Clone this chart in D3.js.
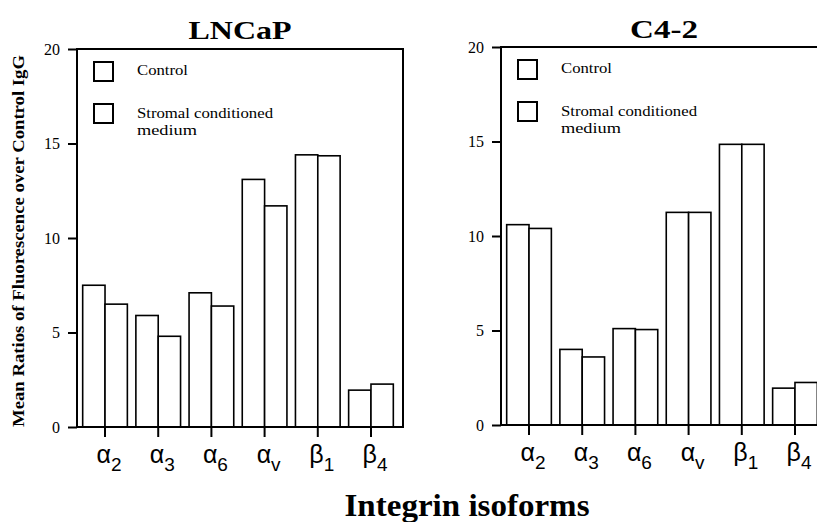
<!DOCTYPE html>
<html>
<head>
<meta charset="utf-8">
<script src="https://cdn.jsdelivr.net/npm/d3@7"></script>
<style>
  body { margin: 0; background: #fff; }
  svg { display: block; }
</style>
</head>
<body>
<div id="chart"></div>
<script>
// data
var categories = ["α2", "α3", "α6", "αv", "β1", "β4"];
var seriesNames = ["Control", "Stromal conditioned medium"];
var lncapControl = [7.5, 5.9, 7.1, 13.1, 14.4, 1.95];
var lncapStromal = [6.5, 4.8, 6.4, 11.7, 14.35, 2.27];
var c42Control = [10.6, 4.0, 5.1, 11.25, 14.85, 1.95];
var c42Stromal = [10.4, 3.6, 5.05, 11.25, 14.85, 2.25];
var yTicks = [0, 5, 10, 15, 20];

var svgWidth = 817, svgHeight = 522;
var svg = d3.select("#chart").append("svg")
    .attr("width", svgWidth)
    .attr("height", svgHeight);

var serif = "'Liberation Serif', 'Times New Roman', serif";
var sans = "'Liberation Sans', Arial, Helvetica, sans-serif";

var panels = [
    { title: "LNCaP", left: 77, top: 49, bottom: 427, control: lncapControl, stromal: lncapStromal, titleWidth: 103, titleY: 39 },
    { title: "C4-2", left: 501, top: 47, bottom: 425, control: c42Control, stromal: c42Stromal, titleWidth: 68, titleY: 38 }
];
var panelWidth = 326;

panels.forEach(function (p) {
    var g = svg.append("g").attr("transform", "translate(" + p.left + ",0)");

    var y = d3.scaleLinear().domain([0, 20]).range([p.bottom, p.top]);
    var x0 = d3.scaleBand().domain(categories).range([1, 321])
        .paddingInner(0.16).paddingOuter(0.088);
    var x1 = d3.scaleBand().domain(["control", "stromal"]).range([0, x0.bandwidth()]);

    // bars
    var rows = categories.map(function (c, i) {
        return { cat: c, values: [{ key: "control", v: p.control[i] }, { key: "stromal", v: p.stromal[i] }] };
    });
    g.selectAll(".grp").data(rows).enter().append("g")
        .attr("transform", function (d) { return "translate(" + x0(d.cat) + ",0)"; })
        .selectAll("rect").data(function (d) { return d.values; }).enter().append("rect")
        .attr("x", function (d) { return x1(d.key); })
        .attr("y", function (d) { return y(d.v); })
        .attr("width", x1.bandwidth())
        .attr("height", function (d) { return y(0) - y(d.v); })
        .attr("fill", "#fff")
        .attr("stroke", "#000")
        .attr("stroke-width", 1.6);

    // frame
    g.append("rect")
        .attr("x", 0).attr("y", p.top)
        .attr("width", panelWidth).attr("height", p.bottom - p.top)
        .attr("fill", "none").attr("stroke", "#000").attr("stroke-width", 2);

    // y axis
    var yAxis = d3.axisLeft(y).tickValues(yTicks).tickSize(9).tickPadding(8);
    var ya = g.append("g").call(yAxis);
    ya.attr("font-family", serif).attr("font-size", 16);
    ya.select(".domain").remove();
    ya.selectAll("line").attr("stroke-width", 2);
    ya.selectAll("text").attr("fill", "#000");

    // x axis
    var xAxis = d3.axisBottom(x0).tickSize(10).tickFormat("");
    var xa = g.append("g").attr("transform", "translate(0," + p.bottom + ")").call(xAxis);
    xa.attr("font-family", sans).attr("font-size", 25);
    xa.select(".domain").remove();
    xa.selectAll("line").attr("stroke-width", 2);
    xa.selectAll(".tick").append("text")
        .attr("x", 4).attr("y", 36)
        .attr("text-anchor", "middle")
        .attr("fill", "#000")
        .each(function (d) {
            var t = d3.select(this);
            t.append("tspan").text(d.charAt(0));
            t.append("tspan").attr("font-size", 19).attr("dy", 8).text(d.slice(1));
        });

    // title
    g.append("text")
        .attr("x", panelWidth / 2).attr("y", p.titleY)
        .attr("text-anchor", "middle")
        .attr("font-family", serif).attr("font-weight", "bold").attr("font-size", 26)
        .attr("textLength", p.titleWidth).attr("lengthAdjust", "spacingAndGlyphs")
        .text(p.title);

    // legend
    var legendRows = [
        { box: 13, text: 26, lines: [seriesNames[0]], widths: [51] },
        { box: 55, text: 69, lines: ["Stromal conditioned", "medium"], widths: [136, 60] }
    ];
    legendRows.forEach(function (r) {
        g.append("rect")
            .attr("x", 17).attr("y", p.top + r.box)
            .attr("width", 19).attr("height", 19)
            .attr("fill", "#fff").attr("stroke", "#000").attr("stroke-width", 2);
        r.lines.forEach(function (line, i) {
            g.append("text")
                .attr("x", 60).attr("y", p.top + r.text + i * 17)
                .attr("font-family", serif).attr("font-size", 14.5).attr("fill", "#000")
                .attr("textLength", r.widths[i]).attr("lengthAdjust", "spacingAndGlyphs")
                .text(line);
        });
    });
});

// axis titles
svg.append("text")
    .attr("transform", "translate(24,241) rotate(-90)")
    .attr("text-anchor", "middle")
    .attr("font-family", serif).attr("font-weight", "bold").attr("font-size", 16)
    .attr("textLength", 372).attr("lengthAdjust", "spacingAndGlyphs")
    .text("Mean Ratios of Fluorescence over Control IgG");

svg.append("text")
    .attr("x", 467).attr("y", 516)
    .attr("text-anchor", "middle")
    .attr("font-family", serif).attr("font-weight", "bold").attr("font-size", 31)
    .attr("textLength", 245).attr("lengthAdjust", "spacingAndGlyphs")
    .text("Integrin isoforms");
</script>
</body>
</html>
